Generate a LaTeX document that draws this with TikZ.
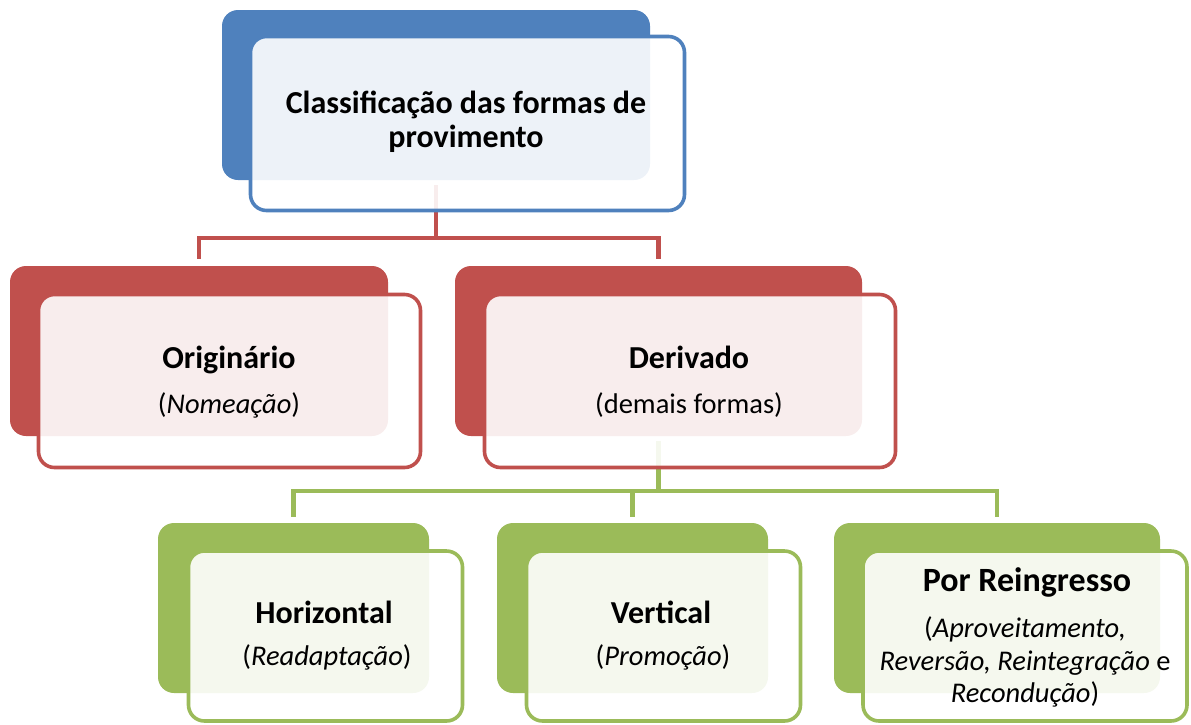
\documentclass[tikz,border=0pt]{standalone}
\usepackage{fontspec}
\setmainfont{Carlito}
\usetikzlibrary{calc}
\definecolor{sblue}{HTML}{4F81BD}
\definecolor{sred}{HTML}{C0504D}
\definecolor{sgreen}{HTML}{9BBB59}
\begin{document}
\begin{tikzpicture}[x=1pt,y=-1pt,
  backbox/.style={fill=#1, rounded corners=16pt, inner sep=0pt, outer sep=0pt},
  frontbox/.style={draw=#1, line width=3.6pt, fill=white, fill opacity=0.9, rounded corners=16pt, inner sep=0pt},
  conn/.style={draw=#1, line width=4.4pt},
  ttl/.style={anchor=base, inner sep=0pt, text=black, font=\fontsize{32}{34}\selectfont\bfseries},
  sub/.style={anchor=base, inner sep=0pt, text=black, font=\fontsize{28.5}{33}\selectfont},
]
\useasboundingbox (0,0) rectangle (1191,724);

% back boxes
\node[backbox=sblue, minimum width=428, minimum height=170] (rootb) at (436,95) {};
\node[backbox=sred, minimum width=378, minimum height=170] (origb) at (199,351) {};
\node[backbox=sred, minimum width=407, minimum height=170] (derb) at (658.5,351) {};
\node[backbox=sgreen, minimum width=271, minimum height=170] (horb) at (293.5,608) {};
\node[backbox=sgreen, minimum width=271, minimum height=170] (verb) at (632.5,608) {};
\node[backbox=sgreen, minimum width=326, minimum height=170] (reib) at (997,608) {};

% connectors
\coordinate (rootc) at ($(rootb.south)+(0,5)$);
\coordinate (origc) at ($(origb.north)+(0,-7)$);
\coordinate (derc) at ($(derb.north)+(0,-7)$);
\draw[conn=sred] (rootc) -- (rootc |- 0,238) -| (origc);
\draw[conn=sred] (rootc |- 0,238) -| (derc);
\coordinate (derd) at ($(derb.south)+(0,5)$);
\coordinate (horc) at ($(horb.north)+(0,-6)$);
\coordinate (verc) at ($(verb.north)+(0,-6)$);
\coordinate (reic) at ($(reib.north)+(0,-6)$);
\draw[conn=sgreen] (derd) -- (derd |- 0,491) -| (horc);
\draw[conn=sgreen] (derd |- 0,491) -| (verc);
\draw[conn=sgreen] (derd |- 0,491) -| (reic);

% front boxes
\node[frontbox=sblue, minimum width=434, minimum height=174] (rootf) at (467.5,123.5) {};
\node[frontbox=sred, minimum width=382, minimum height=173] (origf) at (229.5,381) {};
\node[frontbox=sred, minimum width=411, minimum height=173] (derf) at (690,381) {};
\node[frontbox=sgreen, minimum width=274, minimum height=170] (horf) at (325.5,636) {};
\node[frontbox=sgreen, minimum width=274, minimum height=170] (verf) at (663.5,636) {};
\node[frontbox=sgreen, minimum width=324, minimum height=170] (reif) at (1025,636) {};

% texts
\node[ttl] (roott1) at (466,113) {Classificação das formas de};
\node[ttl] (roott2) at (466,147) {provimento};
\node[ttl] (origt) at (229,368) {Originário};
\node[sub] (origs) at (229,413) {(\textit{Nomeação})};
\node[ttl] (dert) at (689,368) {Derivado};
\node[sub] (ders) at (689,413) {(demais formas)};
\node[ttl] (hort) at (324,623) {Horizontal};
\node[sub] (hors) at (327,665) {(\textit{Readaptação})};
\node[ttl] (vert) at (661,623) {Vertical};
\node[sub] (vers) at (663,665) {(\textit{Promoção})};
\node[ttl, font=\fontsize{34}{36}\selectfont\bfseries] (reit) at (1027,591) {Por Reingresso};
\node[sub] (reis1) at (1025,637) {(\textit{Aproveitamento,}};
\node[sub] (reis2) at (1025,670) {\textit{Reversão, Reintegração} e};
\node[sub] (reis3) at (1025,702) {\textit{Recondução})};
\end{tikzpicture}
\end{document}
